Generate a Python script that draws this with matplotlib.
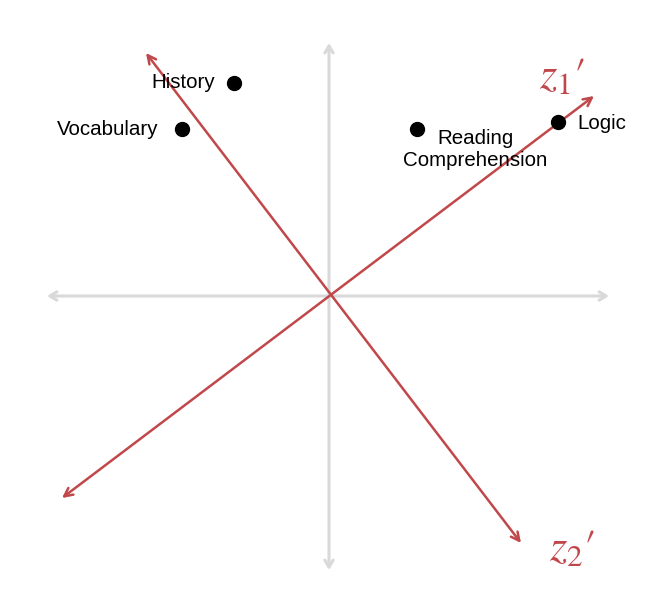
import matplotlib
matplotlib.use("Agg")
import matplotlib.pyplot as plt

plt.rcParams['mathtext.fontset'] = 'stix'

# subject scores in the original (x, y) plane
subjects = ['History', 'Vocabulary', 'Reading\nComprehension', 'Logic']
sx = [-0.95, -1.47, 0.88, 2.29]
sy = [2.13, 1.67, 1.67, 1.74]

# label offsets (points) and alignment
offsets = [(-13.7, 0), (-17, -0.7), (42, -15), (13.7, -1.4)]
aligns = ['right', 'right', 'center', 'left']

# rotated axes z1', z2' (tail -> head)
z1_tail, z1_head = (-2.67, -2.02), (2.65, 2.00)
z2_tail, z2_head = (-1.83, 2.43), (1.92, -2.47)

red = '#c1484a'
gray = '#d9d9d9'

fig = plt.figure(figsize=(6.57, 6.06), dpi=100)
ax = fig.add_axes([0, 0, 1, 1])
ax.set_xlim(-3.29, 3.28)
ax.set_ylim(-3.10, 2.96)
ax.axis('off')

# gray original axes
gkw = dict(arrowstyle='<->,head_length=0.5,head_width=0.3', color=gray, lw=2.2, shrinkA=0, shrinkB=0)
ax.annotate('', xy=(2.80, 0), xytext=(-2.82, 0), arrowprops=gkw)
ax.annotate('', xy=(0, 2.53), xytext=(0, -2.74), arrowprops=gkw)

# red rotated axes
rkw = dict(arrowstyle='<->,head_length=0.6,head_width=0.3', color=red, lw=1.8, shrinkA=0, shrinkB=0)
ax.annotate('', xy=z1_head, xytext=z1_tail, arrowprops=rkw)
ax.annotate('', xy=z2_head, xytext=z2_tail, arrowprops=rkw)

ax.text(2.33, 2.20, r"$z_1\prime$", color=red, fontsize=32, ha='center', va='center')
ax.text(2.43, -2.52, r"$z_2\prime$", color=red, fontsize=32, ha='center', va='center')

ax.plot(sx, sy, 'o', color='black', ms=10, zorder=5)
for name, x, y, off, ha in zip(subjects, sx, sy, offsets, aligns):
    ax.annotate(name, (x, y), xytext=off, textcoords='offset points',
                ha=ha, va='center', fontsize=14.8, family='Liberation Sans',
                multialignment='center', linespacing=1.2)

fig.savefig('out.png', dpi=100)
